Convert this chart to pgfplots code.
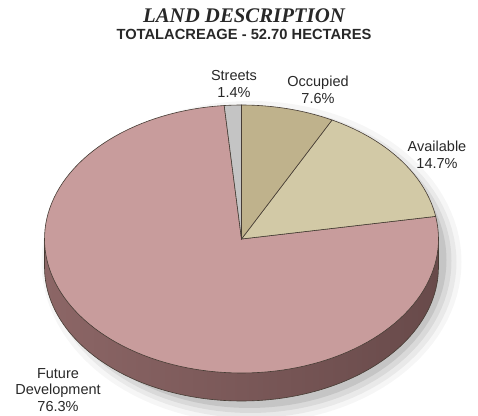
\documentclass[border=0pt]{standalone}
\usepackage{pgfplots}
\pgfplotsset{compat=1.18}
\usepackage{fontspec}
\setmainfont{Liberation Sans}
\newfontfamily\titlefont{Liberation Serif}
\definecolor{occ}{RGB}{191,178,140}
\definecolor{avl}{RGB}{210,201,166}
\definecolor{fut}{RGB}{200,156,156}
\definecolor{str}{RGB}{196,196,196}
\definecolor{sideA}{RGB}{140,102,102}
\definecolor{sideB}{RGB}{122,89,89}
\definecolor{sideC}{RGB}{104,74,74}
\definecolor{edge}{RGB}{70,60,52}
\definecolor{txt}{RGB}{40,40,40}
% data (percent of total acreage)
\def\vOcc{7.6}
\def\vAvl{14.7}
\def\vFut{76.3}
\def\vStr{1.4}
\pgfmathsetmacro{\aA}{90}
\pgfmathsetmacro{\aB}{\aA-\vOcc*3.6}
\pgfmathsetmacro{\aC}{\aB-\vAvl*3.6}
\pgfmathsetmacro{\aD}{\aC-\vFut*3.6}
\pgfmathsetmacro{\aE}{\aD-\vStr*3.6}
\def\cx{241.5}
\def\cy{239}
\def\rx{197}
\def\ry{134}
\def\th{28}
\begin{document}
\begin{tikzpicture}
\begin{axis}[
  scale only axis, width=478pt, height=415pt,
  xmin=0, xmax=478, ymin=0, ymax=415, y dir=reverse,
  axis lines=none, ticks=none, clip=false,
  samples=120, variable=\t, no markers]
% soft shadow
\addplot[draw=none, fill=black, opacity=0.035, domain=0:360] ({\cx+10+(\rx+13)*cos(t)}, {\cy+\th/2+9-(\ry+\th/2+13)*sin(t)});
\addplot[draw=none, fill=black, opacity=0.05, domain=0:360] ({\cx+10+(\rx+8)*cos(t)}, {\cy+\th/2+9-(\ry+\th/2+8)*sin(t)});
\addplot[draw=none, fill=black, opacity=0.07, domain=0:360] ({\cx+9+(\rx+4)*cos(t)}, {\cy+\th/2+8-(\ry+\th/2+4)*sin(t)});
\addplot[draw=none, fill=black, opacity=0.09, domain=0:360] ({\cx+8+(\rx)*cos(t)}, {\cy+\th/2+7-(\ry+\th/2)*sin(t)});
% side of the pie
\addplot[draw=edge, line width=0.6pt, left color=sideA, middle color=sideB, right color=sideC, domain=180:360]
  ({\cx+\rx*cos(t)}, {\cy+\th-\ry*sin(t)}) -- (axis cs:\cx+\rx,\cy) -- (axis cs:\cx-\rx,\cy) -- cycle;
% top face slices
\addplot[draw=edge, line width=0.6pt, fill=fut, domain=\aD:\aC]
  ({\cx+\rx*cos(t)}, {\cy-\ry*sin(t)}) -- (axis cs:\cx,\cy) -- cycle;
\addplot[draw=edge, line width=0.6pt, fill=str, domain=\aE:\aD, samples=10]
  ({\cx+\rx*cos(t)}, {\cy-\ry*sin(t)}) -- (axis cs:\cx,\cy) -- cycle;
\addplot[draw=edge, line width=0.6pt, fill=avl, domain=\aC:\aB, samples=40]
  ({\cx+\rx*cos(t)}, {\cy-\ry*sin(t)}) -- (axis cs:\cx,\cy) -- cycle;
\addplot[draw=edge, line width=0.6pt, fill=occ, domain=\aB:\aA, samples=30]
  ({\cx+\rx*cos(t)}, {\cy-\ry*sin(t)}) -- (axis cs:\cx,\cy) -- cycle;
% titles
\node[text=txt] at (axis cs:244,16) {\titlefont\bfseries\itshape\fontsize{20.8}{22}\selectfont LAND DESCRIPTION};
\node[text=txt] at (axis cs:244,34) {\bfseries\fontsize{14.7}{16}\selectfont TOTALACREAGE - 52.70 HECTARES};
% labels
\node[text=txt, align=center, font=\fontsize{14.5}{16.8}\selectfont] at (axis cs:234,84) {Streets\\1.4\%};
\node[text=txt, align=center, font=\fontsize{14.5}{16.8}\selectfont] at (axis cs:318,90) {Occupied\\7.6\%};
\node[text=txt, align=center, font=\fontsize{14.5}{16.8}\selectfont] at (axis cs:437,155) {Available\\14.7\%};
\node[text=txt, align=center, font=\fontsize{14.5}{16.8}\selectfont] at (axis cs:58,390) {Future\\Development\\76.3\%};
\end{axis}
\pgfresetboundingbox
\path (current axis.south west) rectangle (current axis.north east);
\end{tikzpicture}
\end{document}
